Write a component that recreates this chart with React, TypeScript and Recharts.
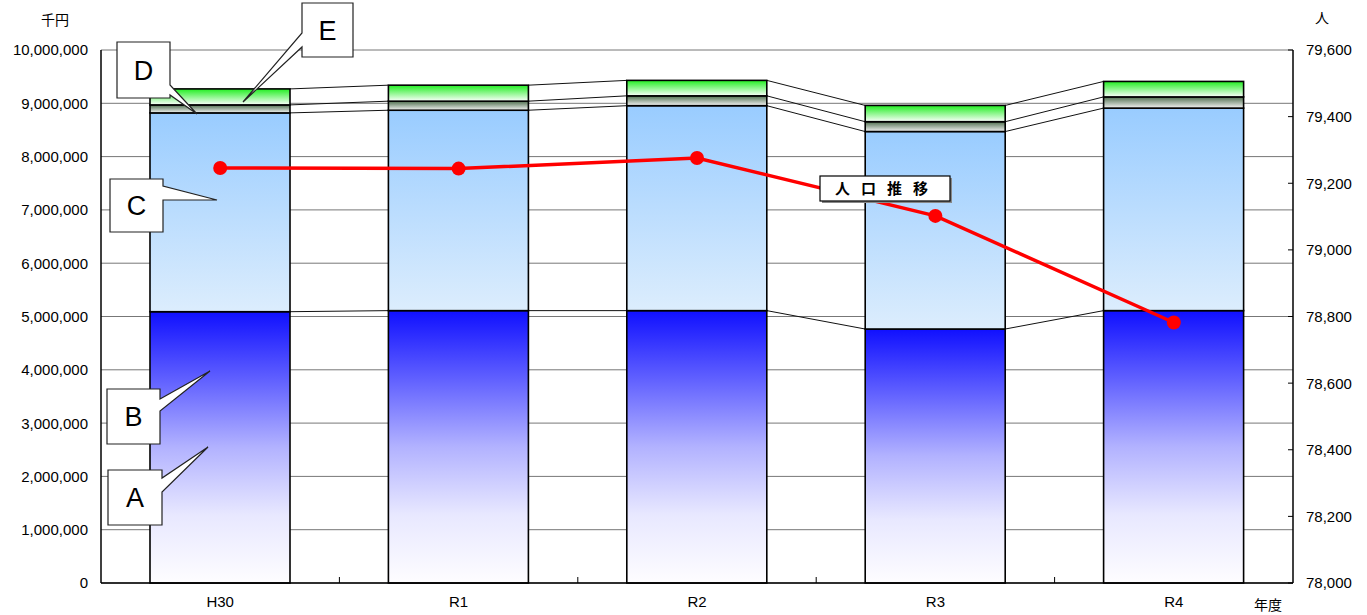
import React from "react";
import { Bar, CartesianGrid, ComposedChart, Line, XAxis, YAxis } from "recharts";

// 年度
const YEARS = ["H30", "R1", "R2", "R3", "R4"];
// 千円 (stacked segments, bottom to top)
const SEG_A = [5090000, 5110000, 5110000, 4765000, 5110000];
const SEG_C = [3730000, 3760000, 3845000, 3705000, 3800000];
const SEG_D = [150000, 170000, 185000, 185000, 210000];
const SEG_E = [300000, 300000, 290000, 305000, 290000];
// 人口推移 (人)
const POPULATION = [79246, 79244, 79276, 79102, 78782];

const LEFT_TICKS = [0, 1000000, 2000000, 3000000, 4000000, 5000000, 6000000, 7000000, 8000000, 9000000, 10000000];
const RIGHT_TICKS = [78000, 78200, 78400, 78600, 78800, 79000, 79200, 79400, 79600];

const W = 1367;
const H = 615;
const PLOT_L = 101;
const PLOT_R = 1293;
const PLOT_T = 50;
const PLOT_B = 583;
const BAND = (PLOT_R - PLOT_L) / YEARS.length;

const FONT = "'Liberation Sans', Arial, sans-serif";
const JP = "'Noto Sans CJK JP', sans-serif";

const rows = YEARS.map((name, i) => ({
  name,
  a: SEG_A[i],
  c: SEG_C[i],
  d: SEG_D[i],
  e: SEG_E[i],
  pop: POPULATION[i],
}));

const SEG_KEYS = ["a", "c", "d", "e"] as const;
type SegKey = (typeof SEG_KEYS)[number];

function topOf(row: any, key: SegKey) {
  let s = 0;
  for (const k of SEG_KEYS) {
    s += row[k];
    if (k === key) break;
  }
  return s;
}

// segment rect + series line to the next bar
function makeSegment(key: SegKey, grad: string) {
  return (props: any) => {
    const { x, y, width, height, index } = props;
    const row = rows[index];
    const next = rows[index + 1];
    let link = null;
    if (next && row[key] > 0 && height > 0) {
      const pxPer = height / row[key];
      const yNext = y + (topOf(row, key) - topOf(next, key)) * pxPer;
      link = <line x1={x + width} y1={y} x2={x + BAND} y2={yNext} stroke="#111" strokeWidth={1} />;
    }
    return (
      <g>
        {link}
        <rect x={x} y={y} width={width} height={height} fill={`url(#${grad})`} stroke="#000" strokeWidth={1.6} />
      </g>
    );
  };
}

const fmt = (v: number) => v.toLocaleString("en-US");

const LeftTick = (p: any) => (
  <text x={p.x} y={p.y} dy="0.36em" textAnchor="end" fontFamily={FONT} fontSize={15} fill="#000">
    {fmt(p.payload.value)}
  </text>
);

const RightTick = (p: any) => (
  <g>
    <line x1={PLOT_R - 5} x2={PLOT_R} y1={p.y} y2={p.y} stroke="#000" />
    <text x={p.x} y={p.y} dy="0.36em" textAnchor="start" fontFamily={FONT} fontSize={15} fill="#000">
      {fmt(p.payload.value)}
    </text>
  </g>
);

const BottomTick = (p: any) => (
  <g>
    {p.index < YEARS.length - 1 && (
      <line x1={p.x + BAND / 2} x2={p.x + BAND / 2} y1={PLOT_B - 6} y2={PLOT_B} stroke="#000" />
    )}
    <text x={p.x} y={p.y} dy="0.71em" textAnchor="middle" fontFamily={FONT} fontSize={15} fill="#000">
      {p.payload.value}
    </text>
  </g>
);

// callout: box with a wedge pointing at tip
function calloutPath(b: number[], side: "right" | "left", w1: number, w2: number, tip: number[]) {
  const [x0, y0, x1, y1] = b;
  if (side === "right") {
    return `M${x0},${y0} H${x1} V${w1} L${tip[0]},${tip[1]} L${x1},${w2} V${y1} H${x0} Z`;
  }
  return `M${x0},${y0} H${x1} V${y1} H${x0} V${w2} L${tip[0]},${tip[1]} L${x0},${w1} Z`;
}

const CALLOUTS = [
  { t: "E", b: [302, 3, 353, 57], side: "left" as const, w1: 33, w2: 47, tip: [243, 102] },
  { t: "D", b: [117, 42, 170, 98], side: "right" as const, w1: 85, w2: 95, tip: [197, 114] },
  { t: "C", b: [110, 179, 163, 232], side: "right" as const, w1: 186, w2: 200, tip: [217, 200] },
  { t: "B", b: [107, 389, 160, 444], side: "right" as const, w1: 399, w2: 411, tip: [210, 371] },
  { t: "A", b: [108, 470, 162, 525], side: "right" as const, w1: 478, w2: 492, tip: [208, 447] },
];

export default function App() {
  return (
    <div style={{ position: "absolute", left: 0, top: 0, width: W, height: H, background: "#fff" }}>
      <svg width={0} height={0} style={{ position: "absolute" }}>
        <defs>
          <linearGradient id="gA" x1="0" y1="0" x2="0" y2="1">
            <stop offset="0" stopColor="#1010ff" />
            <stop offset="0.25" stopColor="#6060ff" />
            <stop offset="0.5" stopColor="#b2b2ff" />
            <stop offset="0.75" stopColor="#e8e8ff" />
            <stop offset="1" stopColor="#fefdff" />
          </linearGradient>
          <linearGradient id="gC" x1="0" y1="0" x2="0" y2="1">
            <stop offset="0" stopColor="#99ccff" />
            <stop offset="1" stopColor="#dcedfd" />
          </linearGradient>
          <linearGradient id="gD" x1="0" y1="0" x2="0" y2="1">
            <stop offset="0" stopColor="#4f6f4f" />
            <stop offset="1" stopColor="#f4f4f4" />
          </linearGradient>
          <linearGradient id="gE" x1="0" y1="0" x2="0" y2="1">
            <stop offset="0" stopColor="#22ee22" />
            <stop offset="1" stopColor="#fbfffb" />
          </linearGradient>
        </defs>
      </svg>
      <ComposedChart
        width={W}
        height={H}
        data={rows}
        margin={{ top: PLOT_T, right: 0, bottom: 0, left: 0 }}
      >
        <CartesianGrid yAxisId="left" vertical={false} stroke="#777" strokeWidth={1} />
        <XAxis
          dataKey="name"
          axisLine={{ stroke: "#000", strokeWidth: 1.5 }}
          tickLine={false}
          tickSize={0}
          tickMargin={13}
          height={H - PLOT_B}
          tick={BottomTick}
          interval={0}
        />
        <YAxis
          yAxisId="left"
          domain={[0, 10000000]}
          ticks={LEFT_TICKS}
          width={PLOT_L}
          axisLine={{ stroke: "#000", strokeWidth: 1.5 }}
          tickLine={false}
          tickSize={0}
          tickMargin={13}
          tick={LeftTick}
          interval={0}
        />
        <YAxis
          yAxisId="right"
          orientation="right"
          domain={[78000, 79600]}
          ticks={RIGHT_TICKS}
          width={W - PLOT_R}
          axisLine={{ stroke: "#000", strokeWidth: 1.5 }}
          tickLine={false}
          tickSize={0}
          tickMargin={13}
          tick={RightTick}
          interval={0}
        />
        <Bar yAxisId="left" dataKey="a" stackId="s" barSize={140} isAnimationActive={false} shape={makeSegment("a", "gA")} />
        <Bar yAxisId="left" dataKey="c" stackId="s" barSize={140} isAnimationActive={false} shape={makeSegment("c", "gC")} />
        <Bar yAxisId="left" dataKey="d" stackId="s" barSize={140} isAnimationActive={false} shape={makeSegment("d", "gD")} />
        <Bar yAxisId="left" dataKey="e" stackId="s" barSize={140} isAnimationActive={false} shape={makeSegment("e", "gE")} />
        <Line
          yAxisId="right"
          dataKey="pop"
          stroke="#ff0000"
          strokeWidth={3.5}
          dot={{ r: 7, fill: "#ff0000", stroke: "none" }}
          isAnimationActive={false}
        />
      </ComposedChart>
      <svg
        width={W}
        height={H}
        style={{ position: "absolute", left: 0, top: 0, pointerEvents: "none" }}
      >
        <text x={55} y={20} dy="0.36em" textAnchor="middle" fontFamily={JP} fontSize={14} fill="#000">
          千円
        </text>
        <text x={1322} y={18} dy="0.36em" textAnchor="middle" fontFamily={JP} fontSize={14} fill="#000">
          人
        </text>
        <text x={1268} y={605} dy="0.36em" textAnchor="middle" fontFamily={JP} fontSize={14} fill="#000">
          年度
        </text>
        {CALLOUTS.map((c) => (
          <g key={c.t}>
            <path d={calloutPath(c.b, c.side, c.w1, c.w2, c.tip)} fill="#fff" stroke="#222" strokeWidth={1.2} />
            <text
              x={(c.b[0] + c.b[2]) / 2}
              y={(c.b[1] + c.b[3]) / 2}
              dy="0.36em"
              textAnchor="middle"
              fontFamily={FONT}
              fontSize={27}
              fill="#000"
            >
              {c.t}
            </text>
          </g>
        ))}
        <rect x={822} y={178} width={130} height={25} fill="#888" />
        <rect x={820} y={176} width={130} height={25} fill="#fff" stroke="#000" strokeWidth={1.2} />
        <text
          x={887}
          y={188.5}
          dy="0.36em"
          textAnchor="middle"
          fontFamily={JP}
          fontWeight={700}
          fontSize={15}
          letterSpacing={11}
          fill="#000"
        >
          人口推移
        </text>
      </svg>
    </div>
  );
}
